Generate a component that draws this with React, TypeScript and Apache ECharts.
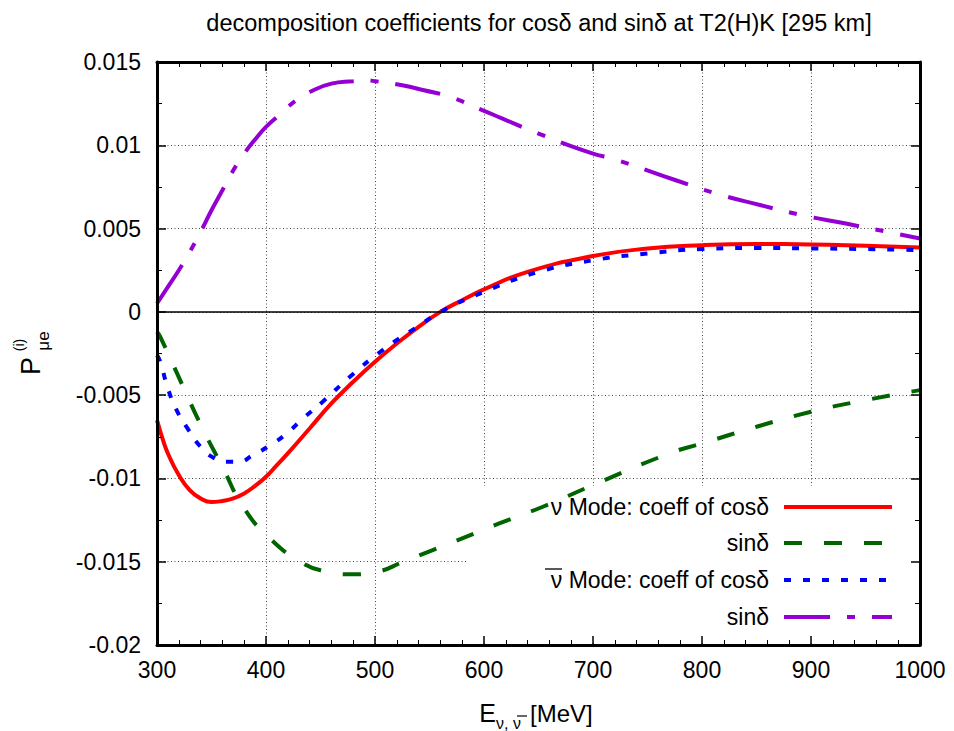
import React, { useEffect, useRef } from "react";
import * as echarts from "echarts";

// ---- data ----
const nuCosE = [300, 305, 310, 320, 330, 340, 350, 360, 370, 380, 390, 400, 410, 420, 440, 460, 480, 500, 520, 540, 560, 580, 600, 640, 700, 750, 800, 850, 900, 950, 1000];
const nuCosV = [-0.0065, -0.0076, -0.0085, -0.0098, -0.0107, -0.0112, -0.01142, -0.01135, -0.0112, -0.0109, -0.01045, -0.0099, -0.0092, -0.0085, -0.007, -0.0055, -0.0042, -0.003, -0.0019, -0.0009, 0.0, 0.0007, 0.00135, 0.0024, 0.00335, 0.0038, 0.004, 0.00407, 0.00405, 0.00397, 0.00387];

const nuSinE = [300, 303, 324, 341, 360, 379, 402, 434, 456, 477, 502, 526, 553, 584, 614, 654, 700, 770, 800, 850, 900, 950, 1000];
const nuSinV = [-0.0012, -0.0015, -0.0045, -0.0069, -0.0093, -0.0117, -0.0135, -0.0151, -0.0156, -0.01576, -0.0156, -0.015, -0.0143, -0.0135, -0.0127, -0.0117, -0.0104, -0.0085, -0.0079, -0.0069, -0.006, -0.0053, -0.0047];

const antiCosE = [300, 303, 310, 318, 328, 340, 353, 365, 375, 388, 404, 419, 434, 452, 477, 507, 541, 560, 600, 650, 700, 750, 800, 850, 900, 950, 1000];
const antiCosV = [-0.0026, -0.003, -0.0046, -0.0059, -0.007, -0.0081, -0.0088, -0.009, -0.009, -0.0086, -0.008, -0.0073, -0.0064, -0.0054, -0.0039, -0.0023, -0.0008, 0.0, 0.0012, 0.0024, 0.0031, 0.0035, 0.00377, 0.00383, 0.00381, 0.00377, 0.00371];

const antiSinE = [300, 310, 320, 330, 340, 350, 360, 370, 380, 390, 400, 410, 420, 430, 440, 460, 480, 490, 500, 525, 545, 569, 599, 617, 650, 700, 718, 776, 813, 854, 892, 932, 1000];
const antiSinV = [0.0005, 0.0015, 0.0025, 0.0036, 0.0048, 0.0061, 0.0073, 0.0085, 0.0095, 0.01035, 0.0111, 0.0117, 0.0123, 0.0128, 0.0132, 0.0137, 0.01385, 0.0139, 0.01385, 0.0136, 0.0133, 0.0129, 0.0121, 0.0116, 0.0107, 0.0095, 0.0092, 0.0079, 0.0071, 0.0064, 0.0058, 0.0053, 0.0044];

const seriesNames = ["\u03bd Mode: coeff of cos\u03b4", "sin\u03b4", "\u03bd Mode: coeff of cos\u03b4", "sin\u03b4"];
const titleText = "decomposition coefficients for cos\u03b4 and sin\u03b4 at T2(H)K [295 km]";

const FONT = "'Liberation Sans', Arial, sans-serif";

const zip = (xs: number[], ys: number[]) => xs.map((x, i) => [x, ys[i]]);

export default function App() {
  const ref = useRef<HTMLDivElement>(null);
  useEffect(() => {
    if (!ref.current) return;
    const chart = echarts.init(ref.current, undefined, { renderer: "svg" });

    const gridL = 157, gridT = 62, gridW = 763, gridH = 583;

    const xBase = { type: "value", min: 300, max: 1000, interval: 100, gridIndex: 0 };
    const yBase = { type: "value", min: -0.02, max: 0.015, interval: 0.005, gridIndex: 0 };
    const border = { show: true, onZero: false, lineStyle: { color: "#000", width: 3 } };
    const tick = { show: true, inside: true, length: 9, lineStyle: { color: "#000", width: 1.5 } };
    const fmtY = (v: number) => {
      const r = Math.round(v * 1000) / 1000;
      return r === 0 ? "0" : String(r);
    };
    const fmtX = (v: number) => String(Math.round(v));

    const colors = ["#ff0000", "#006400", "#0000ff", "#9400d3"];
    const dashes: any[] = ["solid", [18, 22], [7, 12], [46, 17, 8, 17]];
    const datas = [zip(nuCosE, nuCosV), zip(nuSinE, nuSinV), zip(antiCosE, antiCosV), zip(antiSinE, antiSinV)];

    const series: any[] = datas.map((d, i) => ({
      type: "line",
      name: "s" + i,
      data: d,
      xAxisIndex: 0,
      yAxisIndex: 0,
      showSymbol: false,
      symbol: "none",
      smooth: 0.5,
      z: 2 + i * 0.01,
      lineStyle: { color: colors[i], width: 4, type: dashes[i] },
      silent: true,
    }));
    series[0].markLine = {
      silent: true,
      symbol: "none",
      label: { show: false },
      lineStyle: { color: "#000", width: 1.5, type: "solid" },
      data: [{ yAxis: 0 }],
    };

    const legendX0 = 784, legendX1 = 892, legendTextX = 769;
    const legendY = [507, 543, 580, 617];
    const graphics: any[] = [
      // opaque key box (hides grid lines behind the key)
      { type: "rect", z: 1, silent: true, shape: { x: 468, y: 486, width: 450, height: 157 }, style: { fill: "#fff" } },
      { type: "text", z: 5, x: 539, y: 23, style: { text: titleText, fill: "#000", font: `23.5px ${FONT}`, textAlign: "center", textVerticalAlign: "middle" } },
      // x axis name
      { type: "text", z: 5, x: 496, y: 713, style: { text: "E", fill: "#000", font: `25px ${FONT}`, textAlign: "right", textVerticalAlign: "middle" } },
      { type: "text", z: 5, x: 496, y: 723, style: { text: "\u03bd, \u03bd", fill: "#000", font: `16px ${FONT}`, textAlign: "left", textVerticalAlign: "middle" } },
      { type: "line", z: 5, silent: true, shape: { x1: 517, y1: 716, x2: 527, y2: 716 }, style: { stroke: "#000", lineWidth: 1.2 } },
      { type: "text", z: 5, x: 530, y: 713, style: { text: "[MeV]", fill: "#000", font: `24px ${FONT}`, textAlign: "left", textVerticalAlign: "middle" } },
      // y axis name
      { type: "text", z: 5, x: 31, y: 366, rotation: Math.PI / 2, style: { text: "P", fill: "#000", font: `27px ${FONT}`, textAlign: "center", textVerticalAlign: "middle" } },
      { type: "text", z: 5, x: 19, y: 345, rotation: Math.PI / 2, style: { text: "(i)", fill: "#000", font: `14px ${FONT}`, textAlign: "center", textVerticalAlign: "middle" } },
      { type: "text", z: 5, x: 43, y: 341, rotation: Math.PI / 2, style: { text: "\u03bce", fill: "#000", font: `17px ${FONT}`, textAlign: "center", textVerticalAlign: "middle" } },
      // overline on the antineutrino symbol in the key
      { type: "line", z: 5, silent: true, shape: { x1: 545, y1: 569, x2: 562, y2: 569 }, style: { stroke: "#000", lineWidth: 1.3 } },
    ];
    seriesNames.forEach((name, i) => {
      graphics.push({
        type: "text", z: 5, x: legendTextX, y: legendY[i],
        style: { text: name, fill: "#000", font: `23px ${FONT}`, textAlign: "right", textVerticalAlign: "middle" },
      });
      graphics.push({
        type: "line", z: 5, silent: true,
        shape: { x1: legendX0, y1: legendY[i], x2: legendX1, y2: legendY[i] },
        style: { stroke: colors[i], lineWidth: 4, lineDash: dashes[i] === "solid" ? null : dashes[i] },
      });
    });

    chart.setOption({
      animation: false,
      backgroundColor: "#fff",
      textStyle: { fontFamily: FONT },
      grid: { left: gridL, top: gridT, width: gridW, height: gridH, containLabel: false },
      xAxis: [
        {
          ...xBase, position: "bottom", z: 0,
          axisLine: { show: false }, axisTick: { show: false }, axisLabel: { show: false },
          splitLine: { show: true, lineStyle: { color: "#444", width: 1, type: [1, 2.5] } },
        },
        {
          ...xBase, position: "bottom", z: 3,
          axisLine: border, axisTick: tick,
          minorTick: { show: true, splitNumber: 5, length: 5, lineStyle: { color: "#000", width: 1 } },
          axisLabel: { show: true, color: "#000", fontSize: 23, fontFamily: FONT, margin: 13, formatter: fmtX },
          splitLine: { show: false },
        },
        {
          ...xBase, position: "top", z: 3,
          axisLine: border, axisTick: tick,
          minorTick: { show: true, splitNumber: 5, length: 5, lineStyle: { color: "#000", width: 1 } },
          axisLabel: { show: false }, splitLine: { show: false },
        },
      ],
      yAxis: [
        {
          ...yBase, position: "left", z: 0,
          axisLine: { show: false }, axisTick: { show: false }, axisLabel: { show: false },
          splitLine: { show: true, lineStyle: { color: "#444", width: 1, type: [1, 2.5] } },
        },
        {
          ...yBase, position: "left", z: 3,
          axisLine: border, axisTick: tick,
          minorTick: { show: true, splitNumber: 2, length: 5, lineStyle: { color: "#000", width: 1 } },
          axisLabel: { show: true, color: "#000", fontSize: 23, fontFamily: FONT, margin: 16, formatter: fmtY },
          splitLine: { show: false },
        },
        {
          ...yBase, position: "right", z: 3,
          axisLine: border, axisTick: tick,
          minorTick: { show: true, splitNumber: 2, length: 5, lineStyle: { color: "#000", width: 1 } },
          axisLabel: { show: false }, splitLine: { show: false },
        },
      ],
      series,
      graphic: graphics,
    });
    return () => chart.dispose();
  }, []);
  return <div ref={ref} style={{ position: "fixed", left: 0, top: 0, width: 954, height: 731 }} />;
}
